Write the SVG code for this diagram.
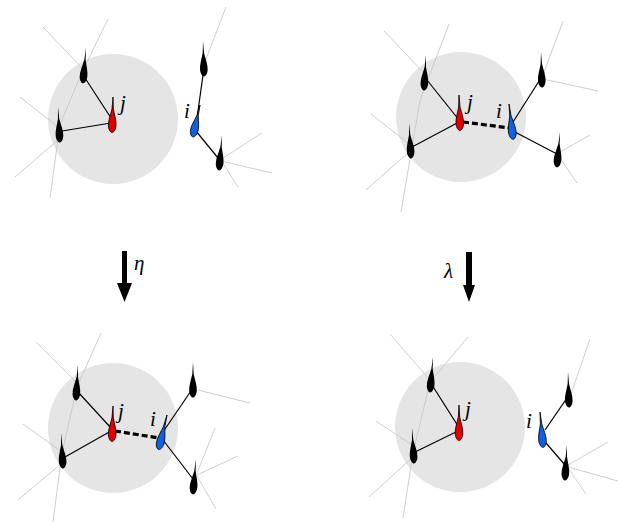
<svg xmlns="http://www.w3.org/2000/svg" width="626" height="524" viewBox="0 0 626 524">
<style>
.zone{fill:#e5e5e5}
.gray{stroke:#c8c8c8;stroke-width:0.9;fill:none}
.link{stroke:#000;stroke-width:1.2;fill:none}
.dash{stroke:#000;stroke-width:3.2;stroke-dasharray:6,3;fill:none}
.blk{fill:#000}
.red{fill:#e00000;stroke:#000;stroke-width:0.8}
.blue{fill:#1060e0;stroke:#000;stroke-width:0.8}
.lbl{font-family:"Liberation Serif","DejaVu Serif",serif;font-style:italic;font-size:21px;fill:#000}
</style>
<defs>
<path id="drop" d="M0,0 L0.7,12 C2,18 4.2,24 3.8,29 C3.4,33 1.6,35.5 0,35.5 C-1.6,35.5 -3.4,33 -3.8,29 C-4.2,24 -2,18 -0.7,12 Z"/>
</defs>
<rect width="626" height="524" fill="#fff"/>
<g id="zones">
<circle class="zone" cx="113" cy="119" r="65"/>
<circle class="zone" cx="461" cy="117" r="65"/>
<circle class="zone" cx="113" cy="428" r="65"/>
<circle class="zone" cx="460" cy="427" r="65"/>
</g>
<g id="connectors">
<polyline class="gray" points="43,27 84,70"/>
<polyline class="gray" points="108,19 84,68 60,124 50,198"/>
<polyline class="gray" points="20,97 58,127"/>
<polyline class="gray" points="15,177 58,140"/>
<polyline class="gray" points="226,7 203,67"/>
<polyline class="gray" points="220,160 262,133"/>
<polyline class="gray" points="221,161 272,173"/>
<polyline class="gray" points="222,162 238,187"/>
<polyline class="gray" points="384,31 423,72"/>
<polyline class="gray" points="449,24 420,100 401,212"/>
<polyline class="gray" points="371,114 408,143"/>
<polyline class="gray" points="366,190 409,152"/>
<polyline class="gray" points="563,21 543,75"/>
<polyline class="gray" points="543,79 598,91"/>
<polyline class="gray" points="560,152 590,135"/>
<polyline class="gray" points="560,158 577,183"/>
<polyline class="gray" points="36,342 76,382"/>
<polyline class="gray" points="101,333 77,387 62,453 53,522"/>
<polyline class="gray" points="23,424 62,452"/>
<polyline class="gray" points="18,500 62,463"/>
<polyline class="gray" points="198,390 250,403"/>
<polyline class="gray" points="215,428 197,473"/>
<polyline class="gray" points="197,475 238,456"/>
<polyline class="gray" points="197,476 216,509"/>
<polyline class="gray" points="390,334 430,380"/>
<polyline class="gray" points="468,337 430,382 413,453 403,518"/>
<polyline class="gray" points="376,421 412,445"/>
<polyline class="gray" points="369,497 413,457"/>
<polyline class="gray" points="590,339 570,397"/>
<polyline class="gray" points="568,465 608,442"/>
<polyline class="gray" points="568,467 618,481"/>
<polyline class="gray" points="568,468 586,494"/>
<line class="link" x1="85" y1="78" x2="111" y2="118"/>
<line class="link" x1="62" y1="131" x2="111" y2="123"/>
<line class="link" x1="197" y1="118" x2="203" y2="75"/>
<line class="link" x1="196" y1="131" x2="218" y2="158"/>
<line class="link" x1="427" y1="80" x2="459" y2="120"/>
<line class="link" x1="412" y1="147" x2="459" y2="122"/>
<line class="link" x1="513" y1="122" x2="541" y2="78"/>
<line class="link" x1="513" y1="131" x2="557" y2="154"/>
<line class="dash" x1="463" y1="122" x2="510" y2="128"/>
<line class="link" x1="78" y1="392" x2="111" y2="428"/>
<line class="link" x1="65" y1="457" x2="111" y2="431"/>
<line class="link" x1="163" y1="432" x2="193" y2="388"/>
<line class="link" x1="163" y1="440" x2="193" y2="479"/>
<line class="dash" x1="115" y1="431" x2="159" y2="438"/>
<line class="link" x1="432" y1="385" x2="458" y2="426"/>
<line class="link" x1="415" y1="452" x2="458" y2="431"/>
<line class="link" x1="545" y1="430" x2="567" y2="398"/>
<line class="link" x1="546" y1="443" x2="565" y2="465"/>
</g>
<g id="p1-a"><use href="#drop" class="blk" transform="translate(86,48) rotate(5)"/></g>
<g id="p1-b"><use href="#drop" class="blk" transform="translate(58,107) rotate(-3)"/></g>
<g id="p1-j"><use href="#drop" class="red" transform="translate(113,97) rotate(1.6)"/><text class="lbl" x="120" y="110">j</text></g>
<g id="p1-i"><use href="#drop" class="blue" transform="translate(200,105) rotate(12.7) scale(1,0.92)"/><text class="lbl" x="184" y="118">i</text></g>
<g id="p1-c"><use href="#drop" class="blk" transform="translate(203,41) rotate(-1.7)"/></g>
<g id="p1-d"><use href="#drop" class="blk" transform="translate(222,135) rotate(4.8)"/></g>
<g id="p2-a"><use href="#drop" class="blk" transform="translate(426,55) rotate(3.3)"/></g>
<g id="p2-b"><use href="#drop" class="blk" transform="translate(409,123) rotate(-3.3)"/></g>
<g id="p2-j"><use href="#drop" class="red" transform="translate(459,95) rotate(-1.6)"/><text class="lbl" x="467" y="109">j</text></g>
<g id="p2-i"><use href="#drop" class="blue" transform="translate(509,104) rotate(-6.7)"/><text class="lbl" x="496" y="118">i</text></g>
<g id="p2-c"><use href="#drop" class="blk" transform="translate(541,52) rotate(-1.6)"/></g>
<g id="p2-d"><use href="#drop" class="blk" transform="translate(560,132) rotate(5)"/></g>
<g id="p3-a"><use href="#drop" class="blk" transform="translate(78,365) rotate(3.3)"/></g>
<g id="p3-b"><use href="#drop" class="blk" transform="translate(61,433) rotate(-3.3)"/></g>
<g id="p3-j"><use href="#drop" class="red" transform="translate(113,406) rotate(1.7)"/><text class="lbl" x="118" y="418">j</text></g>
<g id="p3-i"><use href="#drop" class="blue" transform="translate(167,415) rotate(13.6)"/><text class="lbl" x="150" y="426">i</text></g>
<g id="p3-c"><use href="#drop" class="blk" transform="translate(193,362) rotate(0)"/></g>
<g id="p3-d"><use href="#drop" class="blk" transform="translate(196,459) rotate(5)"/></g>
<g id="p4-a"><use href="#drop" class="blk" transform="translate(433,357) rotate(4.8)"/></g>
<g id="p4-b"><use href="#drop" class="blk" transform="translate(412,428) rotate(-3.3)"/></g>
<g id="p4-j"><use href="#drop" class="red" transform="translate(459,405) rotate(0)"/><text class="lbl" x="465" y="416">j</text></g>
<g id="p4-i"><use href="#drop" class="blue" transform="translate(540,412) rotate(-5)"/><text class="lbl" x="526" y="428">i</text></g>
<g id="p4-c"><use href="#drop" class="blk" transform="translate(568,372) rotate(-1.6)"/></g>
<g id="p4-d"><use href="#drop" class="blk" transform="translate(567,445) rotate(3.3)"/></g>
<g id="arrow-eta">
<polygon class="blk" points="122,251 127,251 127,283 132,283 124.5,302 117,283 122,283"/>
<text class="lbl" x="134" y="270">η</text>
</g>
<g id="arrow-lambda">
<polygon class="blk" points="466,252 472,252 472,285 475,285 469,302 463,285 466,285"/>
<text class="lbl" x="444" y="278">λ</text>
</g>
</svg>
